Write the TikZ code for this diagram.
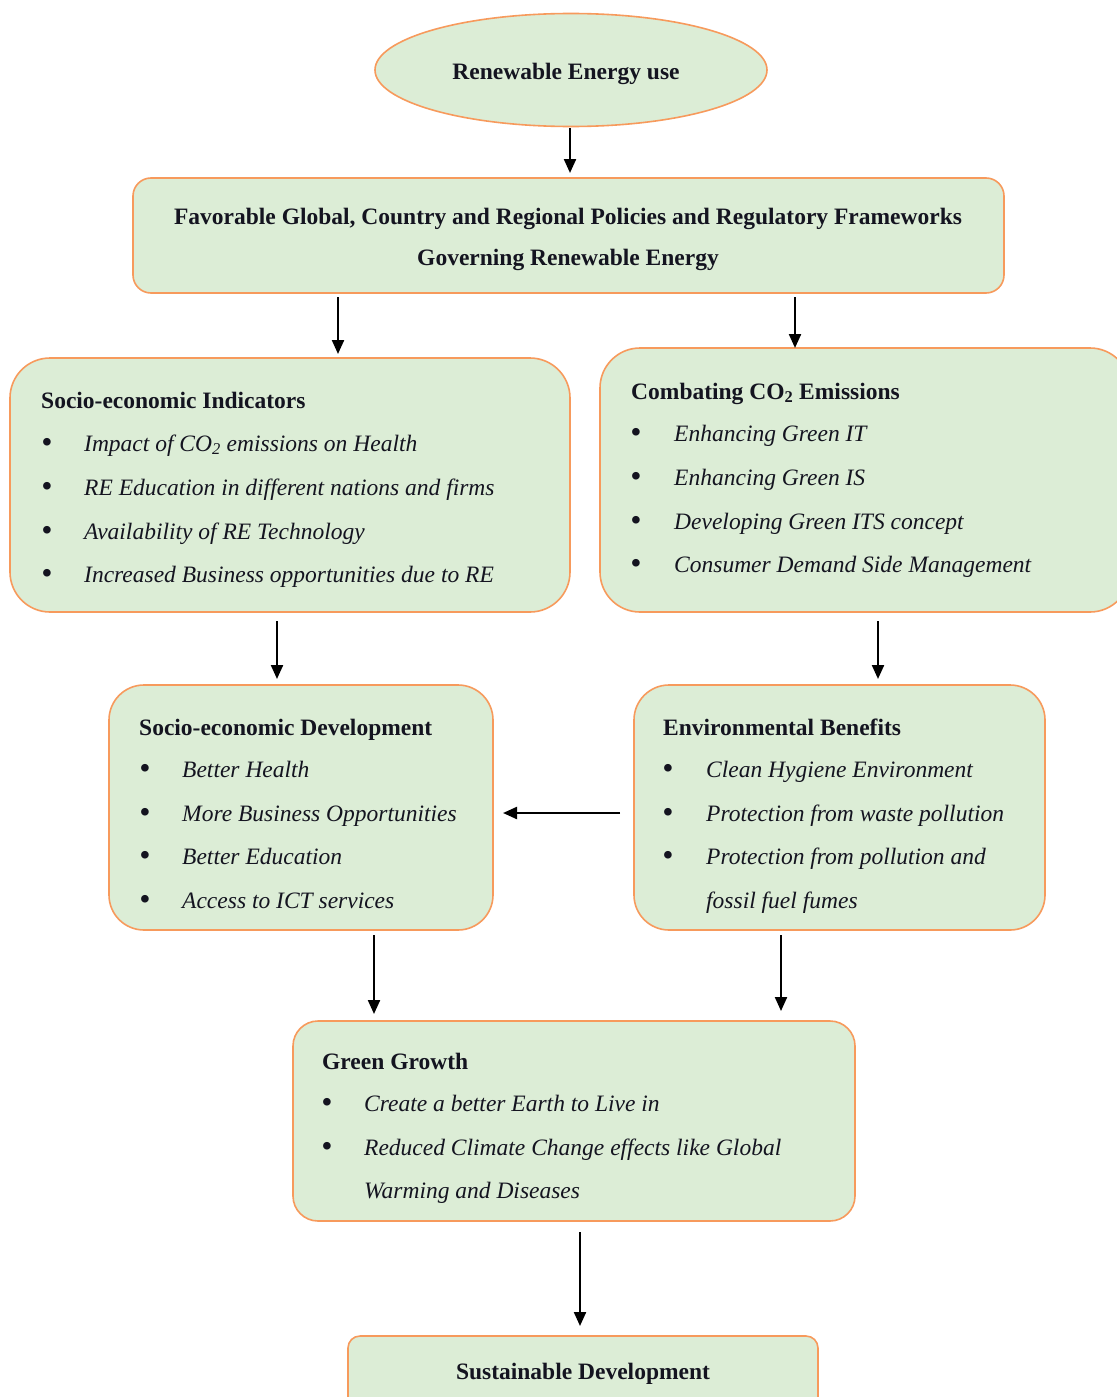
\documentclass[tikz,border=0pt]{standalone}
\usepackage{fontspec}
\setmainfont{Liberation Serif}
\usetikzlibrary{arrows.meta,shapes.geometric}
\definecolor{boxfill}{HTML}{DCEDD6}
\definecolor{boxline}{HTML}{F79A5C}
\definecolor{txt}{HTML}{141420}
\tikzset{
  box/.style={draw=boxline, fill=boxfill, line width=1.6pt, inner sep=0pt},
  ellbox/.style={ellipse, draw=boxline, fill=boxfill, line width=1.6pt, inner sep=0pt},
  ttl/.style={font=\fontsize{23.5}{28}\selectfont\bfseries, text=txt, inner sep=0pt},
  itx/.style={font=\fontsize{23.5}{28}\selectfont\itshape, text=txt, inner sep=0pt, anchor=base west},
  bul/.style={font=\fontsize{28}{30}\selectfont\bfseries, text=txt, inner sep=0pt, anchor=base},
  arr/.style={draw=black, line width=2.2pt, -{Triangle[length=14pt,width=12pt]}},
}
\newcommand{\myitem}[5]{%
  \node[bul] (#1b) at (#2,#4) {•};
  \node[itx] (#1t) at (#3,#4) {#5};}
\begin{document}
\begin{tikzpicture}[x=1pt,y=-1pt]
\useasboundingbox[fill=white] (0,0) rectangle (1116,1397);

% Renewable energy ellipse
\node[ellbox, minimum width=392pt, minimum height=113pt] (re) at (571,70) {};
\node[ttl, anchor=base] (ret) at (566,79) {Renewable Energy use};

% Policies box
\node[box, rounded corners=18pt, minimum width=871pt, minimum height=115pt] (pol) at (568.5,235.5) {};
\node[ttl, anchor=base] (polt1) at (568,224) {Favorable Global, Country and Regional Policies and Regulatory Frameworks};
\node[ttl, anchor=base] (polt2) at (568,265) {Governing Renewable Energy};

% Socio-economic indicators
\node[box, rounded corners=40pt, minimum width=560pt, minimum height=254pt] (sei) at (290,485) {};
\node[ttl, anchor=base west] (seit) at (41,408) {Socio-economic Indicators};
\myitem{seia}{47}{84}{451}{Impact of CO\textsubscript{2} emissions on Health}
\myitem{seib}{47}{84}{495}{RE Education in different nations and firms}
\myitem{seic}{47}{84}{539}{Availability of RE Technology}
\myitem{seid}{47}{84}{582}{Increased Business opportunities due to RE}

% Combating CO2
\node[box, rounded corners=40pt, minimum width=530pt, minimum height=264pt] (co) at (865,480) {};
\node[ttl, anchor=base west] (cot) at (631,399) {Combating CO\textsubscript{2} Emissions};
\myitem{coa}{636}{674}{441}{Enhancing Green IT}
\myitem{cob}{636}{674}{485}{Enhancing Green IS}
\myitem{coc}{636}{674}{529}{Developing Green ITS concept}
\myitem{cod}{636}{674}{572}{Consumer Demand Side Management}

% Socio-economic development
\node[box, rounded corners=35pt, minimum width=384pt, minimum height=245pt] (sed) at (301,807.5) {};
\node[ttl, anchor=base west] (sedt) at (139,735) {Socio-economic Development};
\myitem{seda}{145}{182}{777}{Better Health}
\myitem{sedb}{145}{182}{821}{More Business Opportunities}
\myitem{sedc}{145}{182}{864}{Better Education}
\myitem{sedd}{145}{182}{908}{Access to ICT services}

% Environmental benefits
\node[box, rounded corners=35pt, minimum width=411pt, minimum height=245pt] (eb) at (839.5,807.5) {};
\node[ttl, anchor=base west] (ebt) at (663,735) {Environmental Benefits};
\myitem{eba}{668}{706}{777}{Clean Hygiene Environment}
\myitem{ebb}{668}{706}{821}{Protection from waste pollution}
\myitem{ebc}{668}{706}{864}{Protection from pollution and}
\node[itx] (ebd) at (706,908) {fossil fuel fumes};

% Green growth
\node[box, rounded corners=25pt, minimum width=562pt, minimum height=200pt] (gg) at (574,1121) {};
\node[ttl, anchor=base west] (ggt) at (322,1069) {Green Growth};
\myitem{gga}{327}{364}{1111}{Create a better Earth to Live in}
\myitem{ggb}{327}{364}{1155}{Reduced Climate Change effects like Global}
\node[itx] (ggc) at (364,1198) {Warming and Diseases};

% Sustainable development
\node[box, rounded corners=12pt, minimum width=470pt, minimum height=90pt] (sd) at (583,1381) {};
\node[ttl, anchor=base] (sdt) at (583,1379) {Sustainable Development};

% connector end points
\coordinate (a1s) at (570,128); \coordinate (a1e) at (570,173);
\coordinate (a2s) at (338,297); \coordinate (a2e) at (338,354);
\coordinate (a3s) at (795,297); \coordinate (a3e) at (795,348);
\coordinate (a4s) at (277,621); \coordinate (a4e) at (277,679);
\coordinate (a5s) at (878,621); \coordinate (a5e) at (878,679);
\coordinate (a6s) at (620,813); \coordinate (a6e) at (503,813);
\coordinate (a7s) at (374,935); \coordinate (a7e) at (374,1014);
\coordinate (a8s) at (781,935); \coordinate (a8e) at (781,1011);
\coordinate (a9s) at (580,1232); \coordinate (a9e) at (580,1326);

\draw[arr] (a1s) -- (a1e);
\draw[arr] (a2s) -- (a2e);
\draw[arr] (a3s) -- (a3e);
\draw[arr] (a4s) -- (a4e);
\draw[arr] (a5s) -- (a5e);
\draw[arr] (a6s) -- (a6e);
\draw[arr] (a7s) -- (a7e);
\draw[arr] (a8s) -- (a8e);
\draw[arr] (a9s) -- (a9e);
\end{tikzpicture}
\end{document}
